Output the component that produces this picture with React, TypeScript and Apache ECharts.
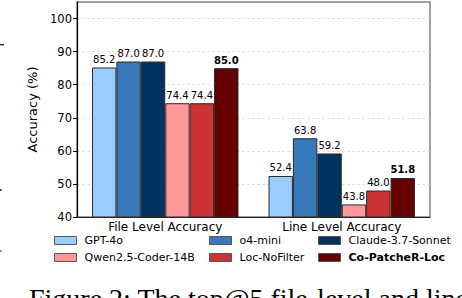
import React, { useEffect, useRef } from "react";
import * as echarts from "echarts";

const categories = ["File Level Accuracy", "Line Level Accuracy"];
const seriesNames = ["GPT-4o", "o4-mini", "Claude-3.7-Sonnet", "Qwen2.5-Coder-14B", "Loc-NoFilter", "Co-PatcheR-Loc"];
const gpt4o = [85.2, 52.4];
const o4mini = [87.0, 63.8];
const claude = [87.0, 59.2];
const qwen = [74.4, 43.8];
const locNoFilter = [74.4, 48.0];
const coPatcher = [85.0, 51.8];
const seriesValues = [gpt4o, o4mini, claude, qwen, locNoFilter, coPatcher];
const colors = ["#99ccff", "#3779b9", "#02325f", "#ff9999", "#cc3333", "#660000"];
const yTicks = [40, 50, 60, 70, 80, 90, 100];
const caption = "Figure 2: The top@5 file-level and line-level localization accuracy";

const FONT = "DejaVu Sans";

export default function App() {
  const ref = useRef<HTMLDivElement>(null);
  useEffect(() => {
    if (!ref.current) return;
    const chart = echarts.init(ref.current, null, { renderer: "svg" });
    const legendPos = [
      { left: 54, top: 235 },
      { left: 209, top: 235 },
      { left: 318, top: 235 },
      { left: 54, top: 252 },
      { left: 209, top: 252 },
      { left: 318, top: 252 },
    ];
    const legends = seriesNames.map((n, i) => ({
      data: [n],
      left: legendPos[i].left,
      top: legendPos[i].top,
      orient: "horizontal",
      icon: "rect",
      itemWidth: 22,
      itemHeight: 8,
      selectedMode: false,
      padding: 0,
      itemStyle: { borderColor: "#555", borderWidth: 1 },
      textStyle: {
        fontFamily: FONT,
        fontSize: 11,
        color: "#000",
        fontWeight: i === 5 ? "bold" : "normal",
        padding: [0, 0, 0, 3],
      },
    }));
    chart.setOption({
      animation: false,
      grid: {
        left: 77,
        right: 32,
        top: 2,
        bottom: 81,
        show: true,
        borderColor: "#808080",
        borderWidth: 1.5,
        backgroundColor: "transparent",
      },
      legend: legends,
      xAxis: {
        type: "category",
        data: categories,
        axisLine: { lineStyle: { color: "#222", width: 1.2 } },
        axisTick: { alignWithLabel: true, length: 3.5, lineStyle: { color: "#222" } },
        axisLabel: { fontFamily: FONT, fontSize: 12, color: "#000", margin: 4 },
      },
      yAxis: {
        type: "value",
        min: 40,
        max: 105,
        interval: 10,
        name: "Accuracy (%)",
        nameLocation: "middle",
        nameGap: 36,
        nameTextStyle: { fontFamily: FONT, fontSize: 13, color: "#000" },
        axisLine: { show: true, lineStyle: { color: "#000", width: 1.2 } },
        axisTick: { show: true, length: 4, lineStyle: { color: "#000" }, customValues: yTicks },
        axisLabel: { fontFamily: FONT, fontSize: 11.5, color: "#000", margin: 5, customValues: yTicks },
        splitLine: { show: true, lineStyle: { color: "#d9d9d9", type: [3, 2], width: 0.8 } },
      },
      series: seriesNames.map((n, i) => ({
        type: "bar",
        name: n,
        data: seriesValues[i],
        barGap: "0%",
        barCategoryGap: "17%",
        itemStyle: { color: colors[i], borderColor: "#2a2a2a", borderWidth: 1 },
        label: {
          show: true,
          position: "top",
          distance: 3,
          fontFamily: FONT,
          fontSize: 10,
          color: "#000",
          fontWeight: i === 5 ? "bold" : "normal",
          formatter: (p: any) => Number(p.value).toFixed(1),
        },
      })),
      graphic: [
        {
          type: "text",
          left: 29,
          top: 284,
          style: {
            text: caption,
            fontFamily: "Liberation Serif",
            fontSize: 28,
            fill: "#000",
          },
        },
        { type: "rect", shape: { x: 0, y: 44, width: 4, height: 1.3 }, style: { fill: "#222" } },
        { type: "rect", shape: { x: 0, y: 189, width: 1.5, height: 2 }, style: { fill: "#333" } },
        { type: "rect", shape: { x: 0, y: 250, width: 1.5, height: 2 }, style: { fill: "#777" } },
      ],
    });
    return () => chart.dispose();
  }, []);
  return (
    <div
      ref={ref}
      style={{ position: "absolute", left: 0, top: 0, width: 462, height: 298, background: "#fff" }}
    />
  );
}
